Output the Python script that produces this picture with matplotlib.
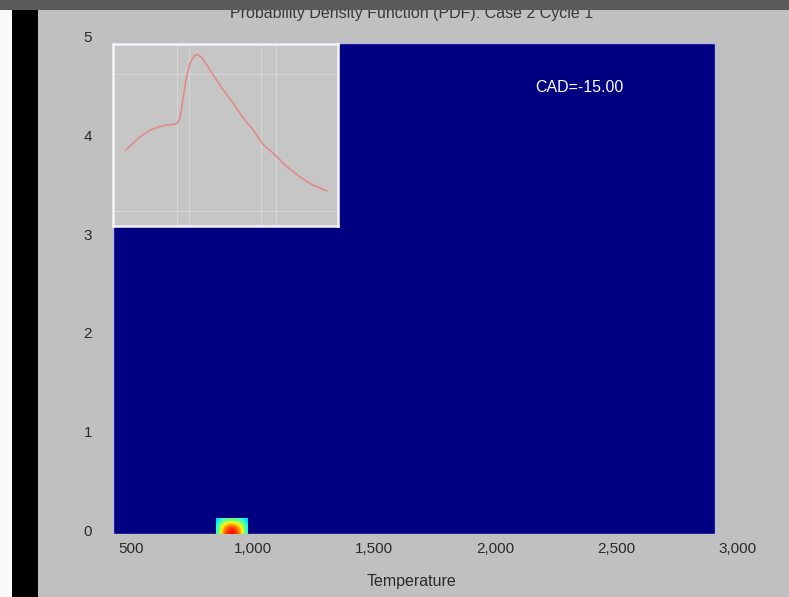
import matplotlib
matplotlib.use("Agg")
import matplotlib.pyplot as plt
from matplotlib.patches import Rectangle
import numpy as np

plt.rcParams['font.family'] = ['Liberation Sans', 'DejaVu Sans']

# ---- data -------------------------------------------------------------
title_text = "Probability Density Function (PDF): Case 2 Cycle 1"
x_label = "Temperature"
cad_text = "CAD=-15.00"

x_ticks = [500, 1000, 1500, 2000, 2500, 3000]
x_tick_labels = ["500", "1,000", "1,500", "2,000", "2,500", "3,000"]
y_ticks = [0, 1, 2, 3, 4, 5]
y_tick_labels = ["0", "1", "2", "3", "4", "5"]

# extent of the PDF grid (temperature, position)
domain_temp = [424, 2907]
domain_pos = [-0.04, 4.94]

# joint-density cells of the hot spot (rows bottom -> top)
blob_x_range = [848, 978]
blob_y_range = [-0.04, 0.113]
blob_density = [
    [0.42, 0.66, 0.80, 0.88, 0.90, 0.87, 0.78, 0.64, 0.42],
    [0.40, 0.62, 0.75, 0.83, 0.85, 0.82, 0.73, 0.60, 0.40],
    [0.37, 0.54, 0.64, 0.70, 0.72, 0.69, 0.62, 0.52, 0.37],
    [0.34, 0.40, 0.45, 0.48, 0.49, 0.48, 0.44, 0.40, 0.34],
]

# marginal temperature PDF shown in the inset (pdf in 1e-3 units)
pdf_temp = [391, 562, 681, 800, 879, 939, 978, 1018, 1038, 1058, 1077, 1109,
            1157, 1205, 1244, 1296, 1395, 1554, 1673, 1792, 1911, 2030, 2149,
            2309, 2467, 2586, 2785]
pdf_value = [1.25, 1.47, 1.58, 1.64, 1.665, 1.675, 1.676, 1.72, 1.78, 1.94,
             2.13, 2.41, 2.68, 2.80, 2.83, 2.78, 2.57, 2.24, 2.02, 1.78, 1.58,
             1.34, 1.20, 0.98, 0.81, 0.70, 0.58]
inset_grid_x = [1000, 1145, 2000, 2180]
inset_grid_y = [0.25, 2.5]

# ---- figure -----------------------------------------------------------
W, H = 789, 597
BG = "#c0c0c0"
fig = plt.figure(figsize=(W / 100, H / 100), dpi=100, facecolor=BG)

def px_rect(x0, y0, x1, y1, color, z):
    fig.patches.append(Rectangle((x0 / W, 1 - y1 / H), (x1 - x0) / W, (y1 - y0) / H,
                                 transform=fig.transFigure, facecolor=color,
                                 edgecolor="none", zorder=z))

def px_axes(x0, y0, x1, y1, **kw):
    return fig.add_axes([x0 / W, 1 - y1 / H, (x1 - x0) / W, (y1 - y0) / H], **kw)

px_rect(0, 0, 12, H, "#fafafa", -1)
px_rect(12, 0, 38, H, "#000000", -1)

ax = px_axes(113, 37, 738, 534)
ax.set_facecolor(BG)
for s in ax.spines.values():
    s.set_visible(False)

cmap = plt.get_cmap("jet")
ax.add_patch(Rectangle((domain_temp[0], domain_pos[0]),
                       domain_temp[1] - domain_temp[0], domain_pos[1] - domain_pos[0],
                       facecolor=cmap(0.0), edgecolor="#b4b4e6", linewidth=1.0, zorder=1))

ax.imshow(np.array(blob_density), cmap=cmap, vmin=0, vmax=1, origin="lower",
          extent=[blob_x_range[0], blob_x_range[1], blob_y_range[0], blob_y_range[1]],
          aspect="auto", interpolation="bilinear", zorder=2)

ax.set_xticks(x_ticks)
ax.set_xticklabels(x_tick_labels)
ax.set_yticks(y_ticks)
ax.set_yticklabels(y_tick_labels)
ax.set_xlim(domain_temp[0], 3000)
ax.set_ylim(domain_pos[0], 5)
ax.tick_params(length=0, labelsize=11, labelcolor="#2a2a2a")
ax.tick_params(axis="x", pad=6)
ax.tick_params(axis="y", pad=15)

ax.set_xlabel(x_label, fontsize=11.5, color="#2a2a2a", labelpad=13, x=0.477)
ax.set_title(title_text, fontsize=11.5, color="#3a3a3a", pad=13.8, x=0.478)

fig.text(535 / W, 1 - 87 / H, cad_text, color="white", fontsize=11.5,
         ha="left", va="center", zorder=6)

# inset with the temperature PDF
ins = px_axes(113, 44, 338, 226, zorder=5)
ins.set_facecolor("#c6c6c6")
ins.set_xlim(240, 2920)
ins.set_ylim(0, 3.0)
ins.set_xticks(inset_grid_x)
ins.set_yticks(inset_grid_y)
ins.tick_params(length=0, labelbottom=False, labelleft=False)
ins.grid(True, color="#d6d6d6", linewidth=0.8)
ins.plot(pdf_temp, pdf_value, color="#e08a8a", linewidth=1.2)
for s in ins.spines.values():
    s.set_color("#f4f4f4")
    s.set_linewidth(1.8)

# window title bar
px_rect(0, 0, W, 10, "#5a5a5a", 20)

fig.savefig("out.png", dpi=100, facecolor=fig.get_facecolor())
